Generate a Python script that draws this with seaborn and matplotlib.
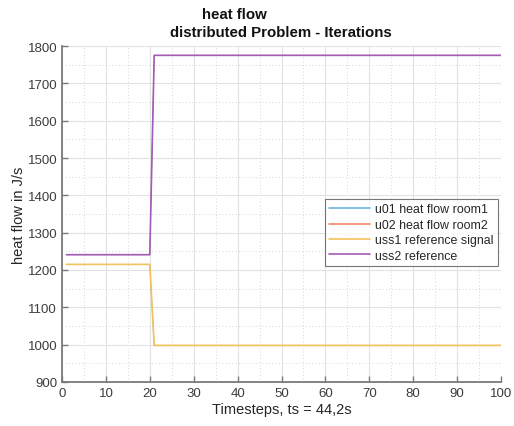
import matplotlib
matplotlib.use("Agg")
import matplotlib.pyplot as plt
import seaborn as sns
import pandas as pd
import numpy as np
from matplotlib.ticker import MultipleLocator

# ---- data ----
timesteps = list(range(1, 101))
uss1_before, uss1_after = 1215, 998
uss2_before, uss2_after = 1241, 1775
step_at = 20  # last timestep at old value

uss1 = [uss1_before if t <= step_at else uss1_after for t in timesteps]
uss2 = [uss2_before if t <= step_at else uss2_after for t in timesteps]
u01 = list(uss1)   # hidden under reference
u02 = list(uss2)   # hidden under reference

series_names = ["u01 heat flow room1", "u02 heat flow room2",
                "uss1 reference signal", "uss2 reference"]
series_values = [u01, u02, uss1, uss2]
colors = ["#6fb1e3", "#ec8a62", "#f2c25a", "#a05cb6"]
widths = [0.6, 0.6, 1.2, 1.2]

rows = []
for name, vals in zip(series_names, series_values):
    for t, v in zip(timesteps, vals):
        rows.append({"t": t, "v": v, "series": name})
df = pd.DataFrame(rows)

sns.set_theme(style="white")
plt.rcParams["font.family"] = ["Liberation Sans", "DejaVu Sans"]

fig = plt.figure(figsize=(5.14, 4.27), dpi=100)
ax = fig.add_axes([62/514, 44/427, 439/514, 336/427])

sns.lineplot(data=df, x="t", y="v", hue="series", hue_order=series_names,
             palette=colors, linewidth=1.2, ax=ax, legend=True)
for line, w in zip(ax.get_lines(), widths):
    line.set_linewidth(w)

ax.set_xlim(0, 100)
ax.set_ylim(900, 1800)
ax.xaxis.set_major_locator(MultipleLocator(10))
ax.xaxis.set_minor_locator(MultipleLocator(5))
ax.yaxis.set_major_locator(MultipleLocator(100))
ax.yaxis.set_minor_locator(MultipleLocator(50))
ax.grid(which="major", color="#e2e2e2", linewidth=0.8, linestyle="-")
ax.grid(which="minor", color="#c8c8c8", linewidth=0.6, linestyle=(0, (1, 3)))
ax.set_axisbelow(True)

for s in ["top", "right"]:
    ax.spines[s].set_visible(False)
for s in ["left", "bottom"]:
    ax.spines[s].set_color("#7a7a7a")
    ax.spines[s].set_linewidth(1.3)
ax.tick_params(which="major", direction="in", length=4, width=1,
               color="#7a7a7a", labelsize=9.5, labelcolor="#3c3c3c",
               left=True, bottom=True)
ax.tick_params(which="minor", length=0)

ax.set_xlabel("Timesteps, ts = 44,2s", fontsize=10.5, color="#262626", labelpad=2)
ax.set_ylabel("heat flow in J/s", fontsize=10.5, color="#262626", labelpad=1)

fig.text(234/514, 1 - 15/427, "heat flow", ha="center", va="center",
         fontsize=10.8, fontweight="bold", color="#111111")
fig.text(281/514, 1 - 33/427, "distributed Problem - Iterations", ha="center",
         va="center", fontsize=10.8, fontweight="bold", color="#111111")

handles, labels = ax.get_legend_handles_labels()
leg = ax.legend(handles, labels, loc="lower right", bbox_to_anchor=(0.993, 0.345),
                fontsize=8.9, frameon=True, fancybox=False, edgecolor="#555555",
                borderpad=0.35, labelspacing=0.28, handlelength=3.3,
                handletextpad=0.4, borderaxespad=0)
leg.get_frame().set_linewidth(0.8)
for line in leg.get_lines():
    line.set_linewidth(1.2)

fig.savefig("out.png", dpi=100)
